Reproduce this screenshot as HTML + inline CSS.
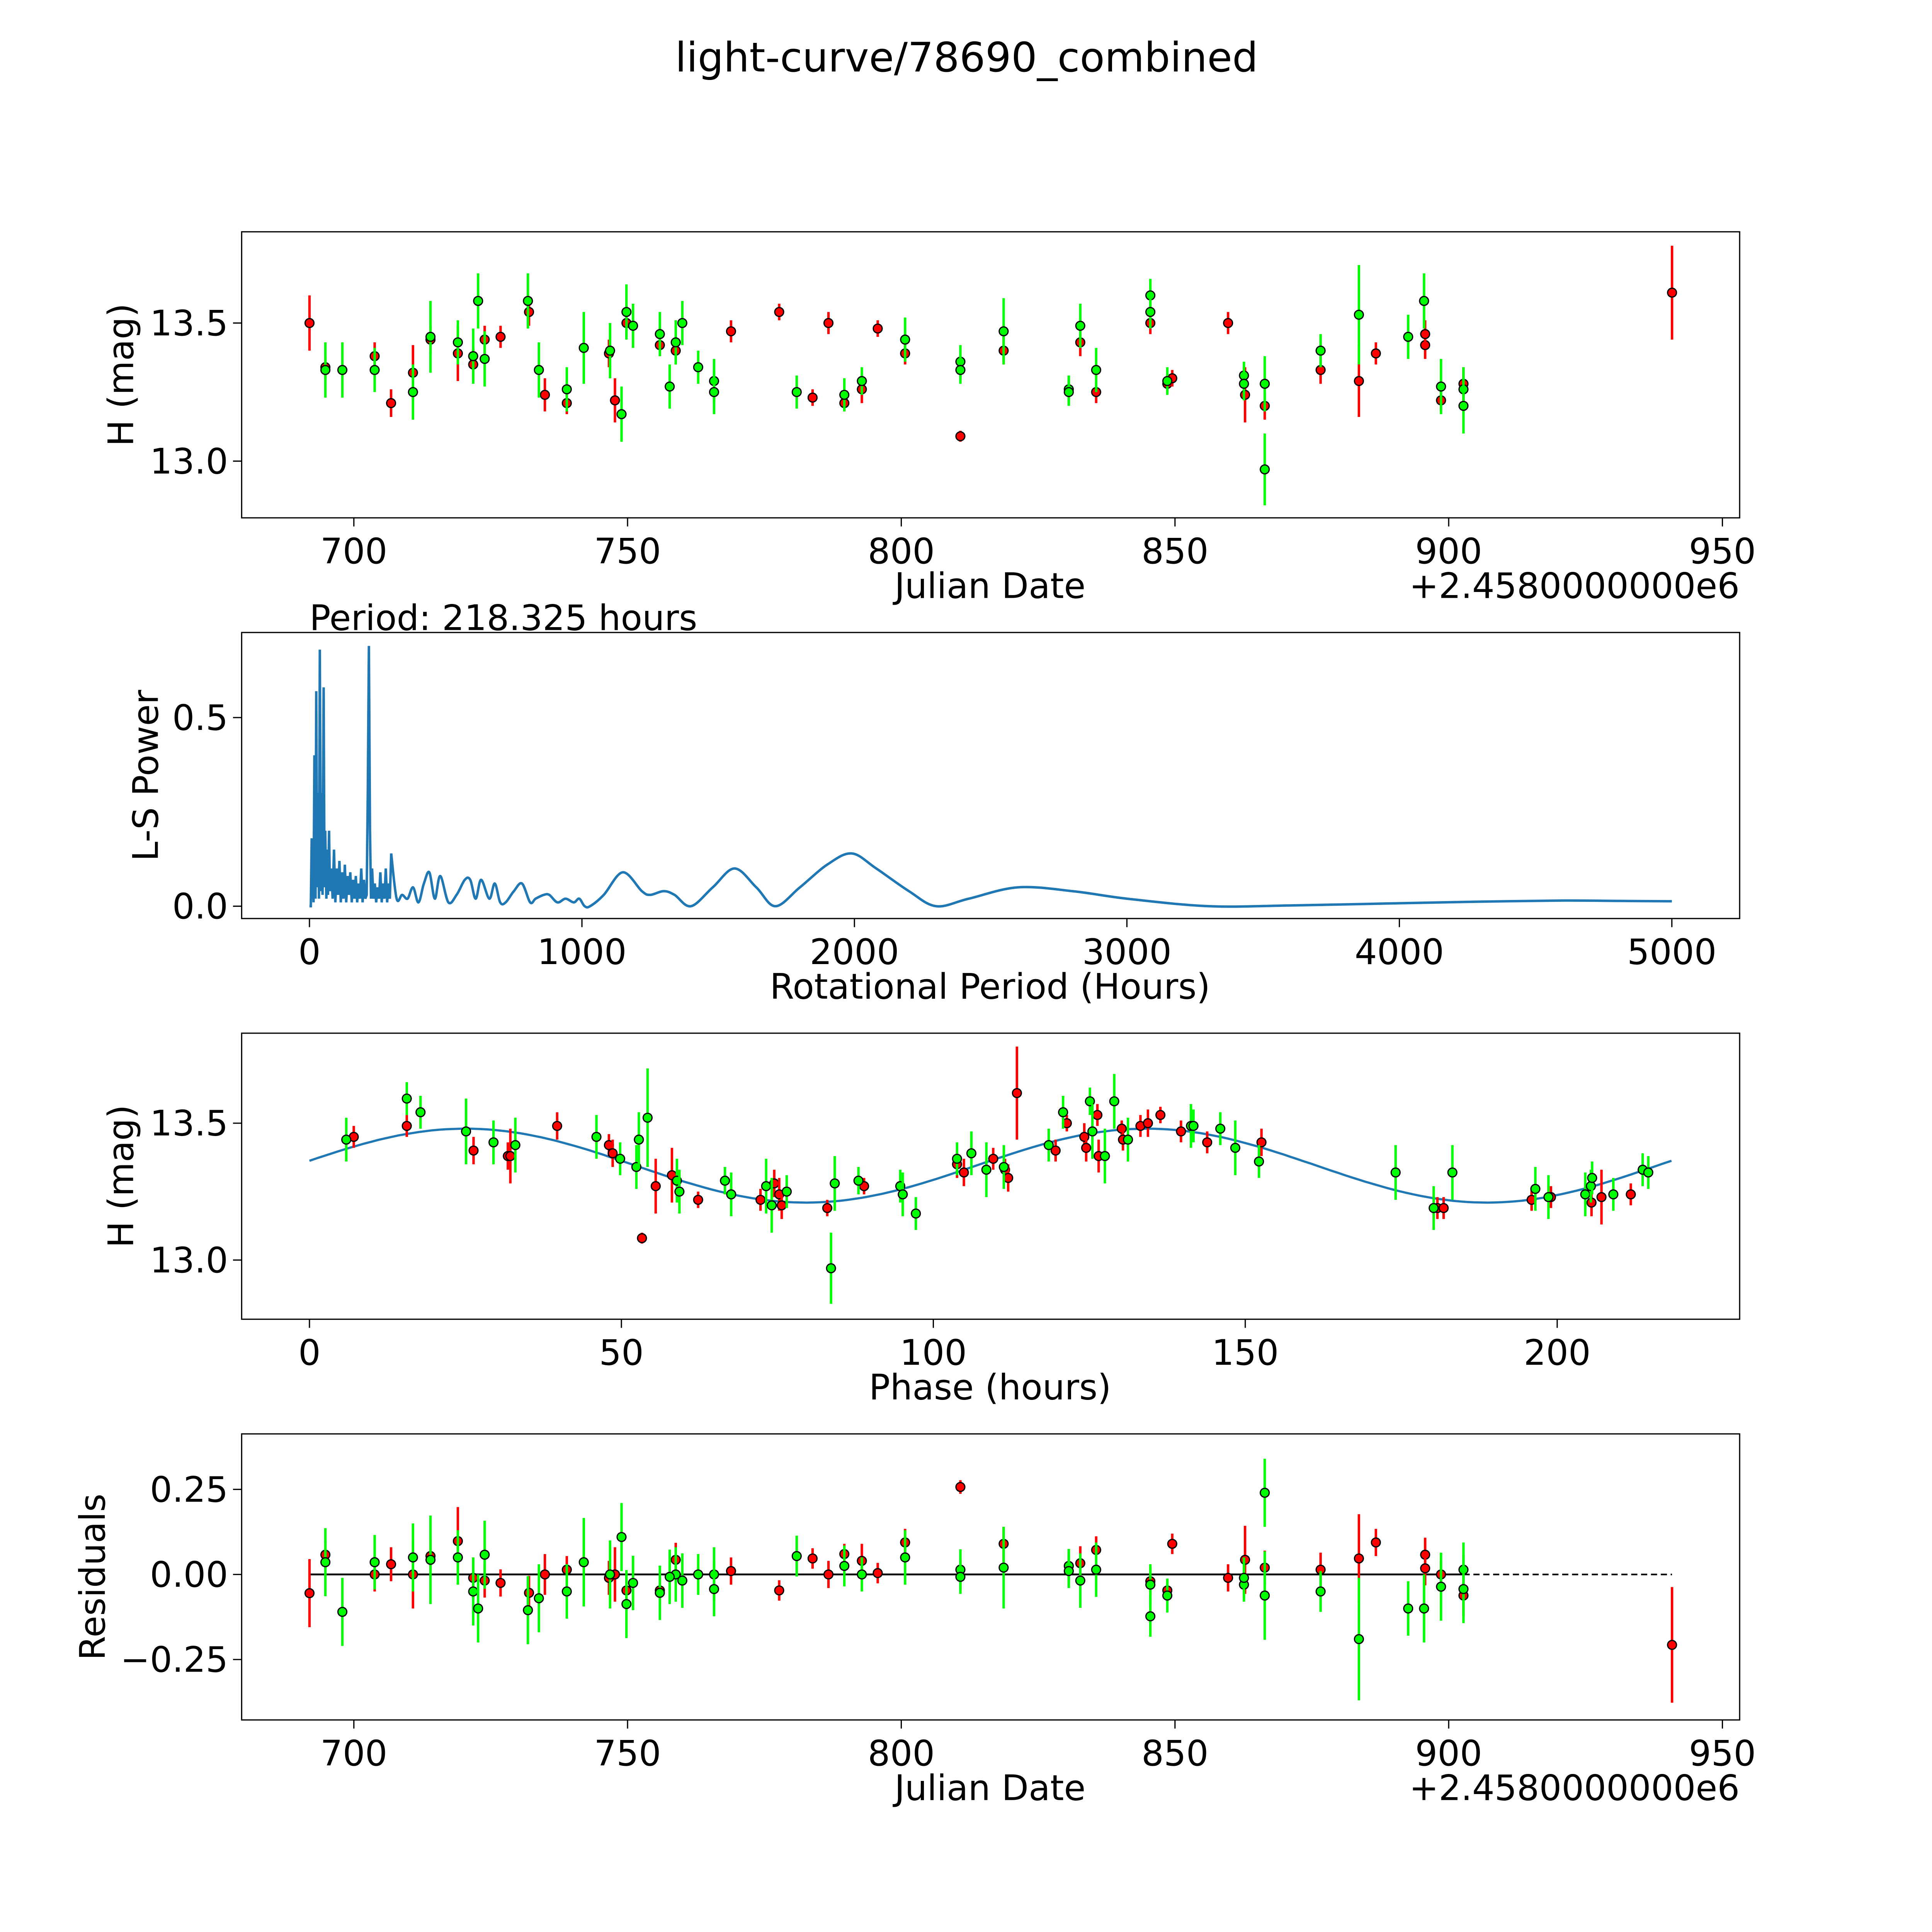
<!DOCTYPE html>
<html><head><meta charset="utf-8"><style>
html,body{margin:0;padding:0;background:#fff;overflow:hidden;}
svg{display:block;position:fixed;left:0;top:0;width:100vw;height:100vh;font-family:"DejaVu Sans","Liberation Sans",sans-serif;}
</style></head><body>
<svg id="fig" viewBox="0 0 1567 1567" preserveAspectRatio="none" xmlns="http://www.w3.org/2000/svg">
<rect width="1567" height="1567" fill="#fff"/>
<text x="784" y="58" font-size="33" text-anchor="middle">light-curve/78690_combined</text>
<g id="g"></g>
</svg>
<script>
// ---- data ----
const redDates=[691.9,694.8,703.8,706.8,710.8,714,719,721.8,723.9,726.8,732,734.9,738.9,746.6,747.7,749.8,755.9,758.8,768.9,777.7,783.8,786.7,789.6,792.8,795.7,800.7,810.8,818.7,832.7,835.6,845.5,848.6,849.5,859.7,862.8,866.4,876.6,883.6,886.7,895.7,895.7,898.6,902.7,940.8];
const redMags=[13.50,13.34,13.38,13.21,13.32,13.44,13.39,13.35,13.44,13.45,13.54,13.24,13.21,13.39,13.22,13.50,13.42,13.40,13.47,13.54,13.23,13.50,13.21,13.26,13.48,13.39,13.09,13.40,13.43,13.25,13.50,13.28,13.30,13.50,13.24,13.20,13.33,13.29,13.39,13.42,13.46,13.22,13.28,13.61];
const redErrs=[0.1,0.04,0.05,0.05,0.1,0.05,0.1,0.06,0.05,0.04,0.05,0.06,0.04,0.05,0.08,0.05,0.04,0.05,0.04,0.03,0.03,0.04,0.03,0.05,0.03,0.04,0.02,0.05,0.05,0.04,0.04,0.03,0.03,0.04,0.1,0.05,0.05,0.13,0.04,0.05,0.05,0.04,0.06,0.17];
const redResiduals=[-0.055,0.058,0,0.03,0,0.054,0.098,-0.01,-0.018,-0.025,-0.054,0,0.014,-0.01,0,-0.047,-0.047,0.043,0.01,-0.047,0.047,0,0.06,0.04,0.004,0.094,0.257,0.09,0.033,0.072,-0.02,-0.047,0.09,-0.01,0.043,0.02,0.014,0.047,0.094,0.058,0.018,0,-0.062,-0.207];
const greenDates=[694.8,697.9,703.8,710.8,714,719,721.8,722.7,723.9,731.8,733.8,738.9,742,746.8,748.9,749.8,751,755.9,758.8,757.7,760,762.9,765.8,765.8,780.9,789.6,792.8,800.7,810.8,810.8,818.7,830.6,830.6,832.7,835.6,845.5,845.5,848.6,862.6,862.6,866.4,866.4,876.6,883.6,892.6,895.5,898.6,902.7,902.7];
const greenMags=[13.33,13.33,13.33,13.25,13.45,13.43,13.38,13.58,13.37,13.58,13.33,13.26,13.41,13.40,13.17,13.54,13.49,13.46,13.43,13.27,13.50,13.34,13.29,13.25,13.25,13.24,13.29,13.44,13.36,13.33,13.47,13.26,13.25,13.49,13.33,13.60,13.54,13.29,13.31,13.28,13.28,12.97,13.40,13.53,13.45,13.58,13.27,13.26,13.20];
const greenErrs=[0.1,0.1,0.08,0.1,0.13,0.08,0.1,0.1,0.1,0.1,0.1,0.08,0.13,0.1,0.1,0.1,0.08,0.08,0.08,0.08,0.08,0.06,0.08,0.08,0.06,0.06,0.05,0.08,0.06,0.05,0.12,0.05,0.05,0.08,0.08,0.06,0.06,0.05,0.05,0.06,0.1,0.13,0.06,0.18,0.08,0.1,0.1,0.08,0.1];
const greenResiduals=[0.036,-0.11,0.036,0.05,0.043,0.05,-0.05,-0.1,0.058,-0.105,-0.07,-0.05,0.036,0,0.11,-0.087,-0.025,-0.054,0,-0.007,-0.018,0,0,-0.043,0.054,0.025,0,0.05,0.014,-0.007,0.02,0.025,0.01,-0.018,0.014,-0.03,-0.123,-0.062,-0.03,-0.01,0.24,-0.062,-0.05,-0.19,-0.1,-0.1,-0.036,0.014,-0.043];
const redPhases=[7.1,15.6,26.3,31.8,32.2,39.7,48,48.6,53.3,55.5,58.1,62.3,72.3,74.5,75.3,75.7,83,88.9,103.8,104.9,109.6,111.5,112,113.4,119.6,121.4,124.2,124.5,126.3,126.5,130.2,130.4,133.2,134.4,136.4,139.7,143.9,152.6,180.8,181.8,195.9,199,205.5,207.1,211.8];
const redPhaseMags=[13.45,13.49,13.40,13.38,13.38,13.49,13.42,13.39,13.08,13.27,13.31,13.22,13.22,13.28,13.24,13.20,13.19,13.27,13.35,13.32,13.37,13.33,13.30,13.61,13.40,13.50,13.45,13.41,13.53,13.38,13.48,13.44,13.49,13.50,13.53,13.47,13.43,13.43,13.19,13.19,13.22,13.23,13.21,13.23,13.24];
const redPhaseErrs=[0.04,0.04,0.05,0.05,0.1,0.05,0.04,0.05,0.02,0.1,0.1,0.03,0.04,0.05,0.06,0.05,0.03,0.03,0.05,0.05,0.04,0.04,0.05,0.17,0.04,0.03,0.05,0.05,0.04,0.06,0.03,0.04,0.04,0.05,0.03,0.04,0.04,0.05,0.04,0.04,0.04,0.04,0.05,0.1,0.04];
const greenPhases=[5.9,15.6,17.8,25.1,29.5,33,46,49.8,52.4,52.8,54.2,58.9,59.3,66.6,67.6,73.2,74.1,76.5,83.6,84.2,88,94.7,95.1,97.2,103.8,106.1,108.5,111.3,118.5,120.8,125.1,125.5,127.5,129,131.2,141.3,141.7,146,148.4,152.2,174.1,180.2,183.2,196.5,198.6,204.5,205.4,205.6,209,213.7,214.6];
const greenPhaseMags=[13.44,13.59,13.54,13.47,13.43,13.42,13.45,13.37,13.34,13.44,13.52,13.29,13.25,13.29,13.24,13.27,13.20,13.25,12.97,13.28,13.29,13.27,13.24,13.17,13.37,13.39,13.33,13.34,13.42,13.54,13.58,13.47,13.38,13.58,13.44,13.49,13.49,13.48,13.41,13.36,13.32,13.19,13.32,13.26,13.23,13.24,13.27,13.30,13.24,13.33,13.32];
const greenPhaseErrs=[0.08,0.06,0.06,0.12,0.08,0.1,0.08,0.06,0.08,0.1,0.18,0.08,0.08,0.05,0.08,0.1,0.1,0.06,0.13,0.1,0.05,0.06,0.08,0.06,0.06,0.08,0.1,0.08,0.06,0.06,0.05,0.1,0.1,0.1,0.08,0.08,0.06,0.06,0.1,0.06,0.1,0.08,0.1,0.08,0.08,0.08,0.06,0.06,0.06,0.06,0.06];
const lsPeriods=[0,5,8,10,12,15,18,22,25,28,32,35,38,42,45,48,52,55,58,62,65,68,72,75,80,85,90,95,100,105,110,115,120,125,130,135,140,145,150,155,160,165,170,175,180,185,190,195,200,205,210,214,218,222,226,230,235,240,245,250,255,260,265,270,275,280,285,290,295,300];
const lsPowers=[0.0,0.0,0.18,0.02,0.1,0.01,0.4,0.02,0.57,0.05,0.3,0.02,0.68,0.04,0.3,0.03,0.58,0.05,0.2,0.02,0.15,0.03,0.2,0.04,0.1,0.02,0.15,0.01,0.1,0.03,0.12,0.01,0.09,0.02,0.11,0.01,0.08,0.03,0.09,0.01,0.07,0.02,0.08,0.01,0.06,0.02,0.1,0.01,0.07,0.02,0.03,0.3,0.69,0.2,0.02,0.1,0.02,0.06,0.01,0.05,0.02,0.09,0.01,0.06,0.02,0.1,0.01,0.06,0.02,0.14];
const lsSmoothPeriods=[300,320,340,360,380,400,420,440,460,480,510,540,570,590,610,630,660,680,700,720,750,780,810,830,860,880,910,940,970,990,1010,1030,1080,1150,1220,1250,1300,1340,1400,1480,1560,1640,1710,1800,1900,1990,2080,2200,2300,2420,2600,2800,3000,3300,3600,4000,4300,4600,4800,5000];
const lsSmoothPowers=[0.14,0.02,0.03,0.02,0.05,0.01,0.06,0.09,0.02,0.08,0.01,0.03,0.07,0.07,0.02,0.07,0.02,0.06,0.01,0.01,0.04,0.06,0.01,0.02,0.03,0.03,0.01,0.02,0.01,0.02,0.0,0.0,0.03,0.09,0.04,0.03,0.04,0.03,0.0,0.05,0.10,0.05,0.0,0.05,0.11,0.14,0.1,0.04,0.0,0.02,0.05,0.04,0.02,0.0,0.002,0.008,0.012,0.015,0.014,0.013];
const xTicksJD=[700,750,800,850,900,950];
const xTicksLS=[0,1000,2000,3000,4000,5000];
const xTicksPh=[0,50,100,150,200];
const yTicksMag=[13.0,13.5];
const yTicksLS=[0.0,0.5];
const yTicksRes=[-0.25,0,0.25];
const yTickResLabels=["\u22120.25","0.00","0.25"];
const PERIOD=218.325;
// ---- helpers ----
const NS="http://www.w3.org/2000/svg", G=document.getElementById('g');
const FS=28.5;
function el(tag,attrs,parent){const e=document.createElementNS(NS,tag);for(const k in attrs)e.setAttribute(k,attrs[k]);(parent||G).appendChild(e);return e;}
function lin(d0,d1,p0,p1){return v=>p0+(v-d0)*(p1-p0)/(d1-d0);}
const xJD=lin(700,950,287,1397), xLS=lin(0,5000,251,1356), xPh=lin(0,200,251,1263);
const yMag1=lin(13.0,13.5,374,262), yLS=lin(0,0.5,735,582), yMag3=lin(13.0,13.5,1022,911), yRes=lin(0,0.25,1277,1208);
function model(p){return 13.345+0.135*Math.sin(4*Math.PI*(p+2.3)/PERIOD);}
function frame(top,name){const r=el('rect',{x:196,y:top,width:1215,height:232,fill:'none',stroke:'#000','stroke-width':1});}
function xticks(ticks,fx,bottom,name){ticks.forEach(t=>{const x=fx(t);const l=el('line',{x1:x,x2:x,y1:bottom,y2:bottom+7,stroke:'#000'});const tx=el('text',{x:x,y:bottom+37,'font-size':FS,'text-anchor':'middle'});tx.textContent=String(t);});}
function yticks(ticks,fy,name,labels){ticks.forEach((t,i)=>{const y=fy(t);const l=el('line',{x1:189,x2:196,y1:y,y2:y,stroke:'#000'});const tx=el('text',{x:185,y:y+10,'font-size':FS,'text-anchor':'end'});tx.textContent=labels[i];});}
function label(txt,x,y,rot,name){const t=el('text',{x:x,y:y,'font-size':FS,'text-anchor':'middle',transform:rot?`rotate(-90 ${x} ${y})`:''});t.textContent=txt;}
function point(x,y,ey0,ey1,color,name){const l=el('line',{x1:x,x2:x,y1:ey0,y2:ey1,stroke:color,'stroke-width':2});const c=el('circle',{cx:x,cy:y,r:3.6,fill:color,stroke:'#000','stroke-width':1});}
function smooth(pts){let d='M'+pts[0][0].toFixed(1)+','+pts[0][1].toFixed(1);for(let i=0;i<pts.length-1;i++){const p0=pts[i-1]||pts[i],p1=pts[i],p2=pts[i+1],p3=pts[i+2]||p2;const c1=[p1[0]+(p2[0]-p0[0])/6,p1[1]+(p2[1]-p0[1])/6],c2=[p2[0]-(p3[0]-p1[0])/6,p2[1]-(p3[1]-p1[1])/6];d+=`C${c1[0].toFixed(1)},${c1[1].toFixed(1)} ${c2[0].toFixed(1)},${c2[1].toFixed(1)} ${p2[0].toFixed(1)},${p2[1].toFixed(1)}`;}return d;}
// ---- panel 1 ----
frame(188,'light-curve-axes');
xticks(xTicksJD,xJD,420,'jd-x');yticks(yTicksMag,yMag1,'mag-y',["13.0","13.5"]);
label('Julian Date',803,485,false,'x-axis-title-jd');
let off=el('text',{x:1411,y:485,'font-size':FS,'text-anchor':'end'});off.textContent='+2.4580000000e6';
label('H (mag)',108,304,true,'y-axis-title-mag');
[[redDates,redMags,redErrs,'#ff0000','red'],[greenDates,greenMags,greenErrs,'#00ff00','green']].forEach(([D,M,E,c,n])=>D.forEach((d,i)=>point(xJD(d),yMag1(M[i]),yMag1(M[i]-E[i]),yMag1(M[i]+E[i]),c,n+'-observation')));
// ---- panel 2 ----
frame(513,'periodogram-axes');
xticks(xTicksLS,xLS,745,'ls-x');yticks(yTicksLS,yLS,'ls-y',["0.0","0.5"]);
label('Rotational Period (Hours)',803,810,false,'x-axis-title-period');
label('L-S Power',128,629,true,'y-axis-title-power');
let pt=el('text',{x:251,y:511,'font-size':FS});pt.textContent='Period: 218.325 hours';
const lsPath=el('path',{d:'M'+lsPeriods.map((p,i)=>xLS(p).toFixed(1)+','+yLS(lsPowers[i]).toFixed(1)).join('L'),fill:'none',stroke:'#1f77b4','stroke-width':2});

const lsPath2=el('path',{d:smooth(lsSmoothPeriods.map((p,i)=>[xLS(p),yLS(lsSmoothPowers[i])])),fill:'none',stroke:'#1f77b4','stroke-width':2});

// ---- panel 3 ----
frame(838,'phase-axes');
xticks(xTicksPh,xPh,1070,'phase-x');yticks(yTicksMag,yMag3,'phase-y',["13.0","13.5"]);
label('Phase (hours)',803,1135,false,'x-axis-title-phase');
label('H (mag)',108,954,true,'y-axis-title-phase-mag');
let mp=[];for(let i=0;i<=200;i++){const p=PERIOD*i/200;mp.push(xPh(p).toFixed(1)+','+yMag3(model(p)).toFixed(1));}
const fit=el('path',{d:'M'+mp.join('L'),fill:'none',stroke:'#1f77b4','stroke-width':1.8});

[[redPhases,redPhaseMags,redPhaseErrs,'#ff0000','red'],[greenPhases,greenPhaseMags,greenPhaseErrs,'#00ff00','green']].forEach(([P,M,E,c,n])=>P.forEach((p,i)=>point(xPh(p),yMag3(M[i]),yMag3(M[i]-E[i]),yMag3(M[i]+E[i]),c,n+'-phased-observation')));
// ---- panel 4 ----
frame(1163,'residuals-axes');
xticks(xTicksJD,xJD,1395,'res-x');yticks(yTicksRes,yRes,'res-y',yTickResLabels);
label('Julian Date',803,1460,false,'x-axis-title-jd-res');
let off2=el('text',{x:1411,y:1460,'font-size':FS,'text-anchor':'end'});off2.textContent='+2.4580000000e6';
label('Residuals',85,1279,true,'y-axis-title-residuals');
const zl=el('line',{x1:xJD(691.9),x2:xJD(940.8),y1:yRes(0),y2:yRes(0),stroke:'#000','stroke-width':1.3,'stroke-dasharray':'5,3'});
const zs=el('line',{x1:xJD(691.9),x2:xJD(902.7),y1:yRes(0),y2:yRes(0),stroke:'#000','stroke-width':1.5});
[[redDates,redResiduals,redErrs,'#ff0000','red'],[greenDates,greenResiduals,greenErrs,'#00ff00','green']].forEach(([D,R,E,c,n])=>D.forEach((d,i)=>point(xJD(d),yRes(R[i]),yRes(R[i]-E[i]),yRes(R[i]+E[i]),c,n+'-residual')));
</script>
</body></html>
